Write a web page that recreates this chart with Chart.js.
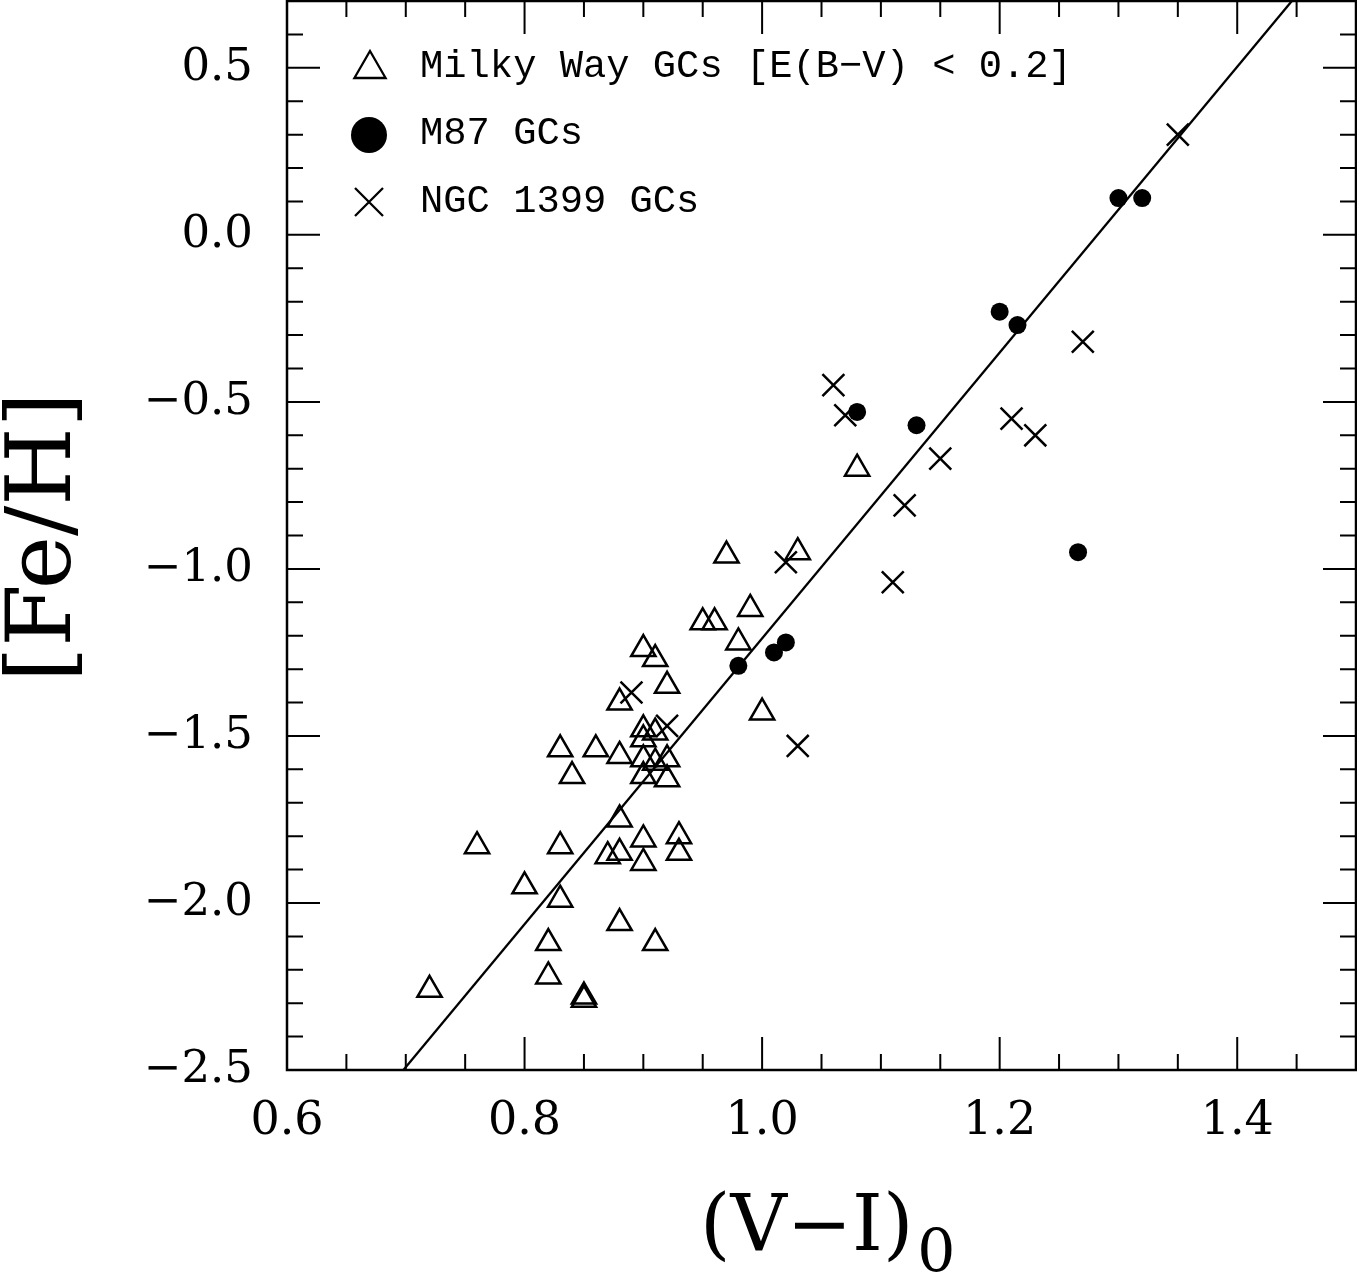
<!DOCTYPE html>
<html>
<head>
<meta charset="utf-8">
<script src="https://cdn.jsdelivr.net/npm/chart.js@4.4.0/dist/chart.umd.min.js"></script>
<style>
  html, body { margin: 0; padding: 0; background: #fff; }
  #wrap { width: 1357px; height: 1276px; }
</style>
</head>
<body>
<div id="wrap"><canvas id="chart" width="1357" height="1276"></canvas></div>
<script>
// Milky Way GCs with E(B-V) < 0.2
var mwColor = [0.72, 0.76, 0.80, 0.82, 0.82, 0.83, 0.83, 0.83, 0.84, 0.85, 0.85, 0.86, 0.87, 0.88,
               0.88, 0.88, 0.88, 0.88, 0.90, 0.90, 0.90, 0.90, 0.90, 0.90, 0.90, 0.91, 0.91, 0.91,
               0.91, 0.92, 0.92, 0.92, 0.93, 0.93, 0.95, 0.96, 0.97, 0.98, 0.99, 1.00, 1.03, 1.08];
var mwFeH = [-2.26, -1.83, -1.95, -2.12, -2.22, -1.54, -1.83, -1.99, -1.62, -2.28, -2.29, -1.54, -1.86, -1.40,
             -1.56, -1.75, -1.85, -2.06, -1.24, -1.48, -1.51, -1.57, -1.62, -1.81, -1.88, -1.27, -1.49, -1.58,
             -2.12, -1.35, -1.57, -1.63, -1.80, -1.85, -1.16, -1.16, -0.96, -1.22, -1.12, -1.43, -0.95, -0.70];

// M87 GCs
var m87Color = [0.98, 1.01, 1.02, 1.08, 1.13, 1.20, 1.215, 1.266, 1.30, 1.32];
var m87FeH = [-1.29, -1.25, -1.22, -0.53, -0.57, -0.23, -0.27, -0.95, 0.11, 0.11];

// NGC 1399 GCs
var ngcColor = [0.89, 0.92, 1.02, 1.03, 1.06, 1.07, 1.11, 1.12, 1.15, 1.21, 1.23, 1.27, 1.35];
var ngcFeH = [-1.37, -1.47, -0.98, -1.53, -0.45, -0.54, -1.04, -0.81, -0.67, -0.55, -0.60, -0.32, 0.30];

// fitted relation, where it enters and leaves the frame
var fitColor = [0.698, 1.446];
var fitFeH = [-2.5, 0.7];

var xTicks = [0.6, 0.8, 1.0, 1.2, 1.4];
var yTicks = [-2.5, -2.0, -1.5, -1.0, -0.5, 0.0, 0.5];
var xMinorStep = 0.05;
var yMinorStep = 0.1;

var legendLabels = ["Milky Way GCs [E(B\u2212V) < 0.2]", "M87 GCs", "NGC 1399 GCs"];

// scatter reserves room round the plot for its markers; the frame here goes to the edge
Chart.registry.getController("scatter").prototype.getMaxOverflow = function () { return 0; };

function zip(xs, ys) {
  return xs.map(function (x, i) { return { x: x, y: ys[i] }; });
}

function fmt(v) {
  return (v < 0 ? "\u2212" : "") + Math.abs(v).toFixed(1);
}

function triangle(ctx, x, y, r) {
  ctx.beginPath();
  ctx.moveTo(x, y - r);
  ctx.lineTo(x + Math.sin(2 * Math.PI / 3) * r, y - Math.cos(2 * Math.PI / 3) * r);
  ctx.lineTo(x + Math.sin(4 * Math.PI / 3) * r, y - Math.cos(4 * Math.PI / 3) * r);
  ctx.closePath();
  ctx.stroke();
}

var framePlugin = {
  id: "frame",
  afterDraw: function (chart) {
    var ctx = chart.ctx, a = chart.chartArea;
    var xs = chart.scales.x, ys = chart.scales.y;
    ctx.save();
    ctx.strokeStyle = "#000";
    ctx.fillStyle = "#000";

    // box
    ctx.lineWidth = 2.5;
    ctx.strokeRect(a.left, a.top, a.right - a.left, a.bottom - a.top);

    // inward ticks on all four sides
    ctx.lineWidth = 2;
    ctx.beginPath();
    var i, p, len;
    for (i = Math.ceil(xs.min / xMinorStep - 1e-6); i * xMinorStep <= xs.max + 1e-9; i++) {
      p = xs.getPixelForValue(i * xMinorStep);
      len = (i % 4 === 0) ? 33 : 16;
      ctx.moveTo(p, a.bottom); ctx.lineTo(p, a.bottom - len);
      ctx.moveTo(p, a.top); ctx.lineTo(p, a.top + len);
    }
    for (i = Math.ceil(ys.min / yMinorStep - 1e-6); i * yMinorStep <= ys.max + 1e-9; i++) {
      p = ys.getPixelForValue(i * yMinorStep);
      len = (i % 5 === 0) ? 33 : 16;
      ctx.moveTo(a.left, p); ctx.lineTo(a.left + len, p);
      ctx.moveTo(a.right, p); ctx.lineTo(a.right - len, p);
    }
    ctx.stroke();

    // legend
    ctx.lineWidth = 2.3;
    triangle(ctx, 370, 69, 18);
    ctx.beginPath();
    ctx.arc(369, 135, 18, 0, 2 * Math.PI);
    ctx.fill();
    ctx.beginPath();
    ctx.moveTo(355, 188); ctx.lineTo(383, 216);
    ctx.moveTo(383, 188); ctx.lineTo(355, 216);
    ctx.stroke();
    ctx.font = "38.8px 'Liberation Mono'";
    ctx.textAlign = "left";
    ctx.textBaseline = "alphabetic";
    var baselines = [77, 144, 212];
    legendLabels.forEach(function (t, k) { ctx.fillText(t, 420, baselines[k]); });

    // axis titles
    ctx.font = "78px 'DejaVu Serif'";
    ctx.fillText("(V\u2212I)", 700, 1250);
    var w = ctx.measureText("(V\u2212I)").width;
    ctx.font = "60px 'DejaVu Serif'";
    ctx.fillText("0", 700 + w + 4, 1272);

    ctx.save();
    ctx.translate(70, 537);
    ctx.rotate(-Math.PI / 2);
    ctx.font = "90px 'DejaVu Serif'";
    ctx.textAlign = "center";
    ctx.fillText("[Fe/H]", 0, 0);
    ctx.restore();

    ctx.restore();
  }
};

new Chart(document.getElementById("chart"), {
  type: "scatter",
  data: {
    datasets: [
      {
        label: legendLabels[0],
        data: zip(mwColor, mwFeH),
        pointStyle: "triangle",
        pointRadius: 14,
        borderWidth: 2.5,
        borderColor: "#000",
        backgroundColor: "rgba(0,0,0,0)"
      },
      {
        label: legendLabels[1],
        data: zip(m87Color, m87FeH),
        pointStyle: "circle",
        pointRadius: 9,
        borderWidth: 0,
        borderColor: "#000",
        backgroundColor: "#000"
      },
      {
        label: legendLabels[2],
        data: zip(ngcColor, ngcFeH),
        pointStyle: "crossRot",
        pointRadius: 15.5,
        borderWidth: 2.5,
        borderColor: "#000",
        backgroundColor: "#000"
      },
      {
        label: "fit",
        data: zip(fitColor, fitFeH),
        showLine: true,
        pointRadius: 0,
        borderWidth: 2.3,
        borderColor: "#000"
      }
    ]
  },
  options: {
    responsive: false,
    animation: false,
    events: [],
    layout: { padding: { left: 0, top: 1, right: 1, bottom: 0 } },
    plugins: { legend: { display: false }, tooltip: { enabled: false } },
    scales: {
      x: {
        type: "linear",
        min: 0.6,
        max: 1.5,
        grid: { display: false, drawTicks: false },
        border: { display: false },
        afterBuildTicks: function (s) { s.ticks = xTicks.map(function (v) { return { value: v }; }); },
        afterFit: function (s) { s.height = 206; s.paddingLeft = 0; s.paddingRight = 0; },
        ticks: {
          autoSkip: false,
          maxRotation: 0,
          padding: 24,
          color: "#000",
          font: { family: "'DejaVu Serif'", size: 46 },
          callback: function (v) { return fmt(v); }
        }
      },
      y: {
        type: "linear",
        min: -2.5,
        max: 0.7,
        grid: { display: false, drawTicks: false },
        border: { display: false },
        afterBuildTicks: function (s) { s.ticks = yTicks.map(function (v) { return { value: v }; }); },
        afterFit: function (s) { s.width = 287; s.paddingTop = 0; s.paddingBottom = 0; },
        ticks: {
          autoSkip: false,
          padding: 34,
          color: "#000",
          font: { family: "'DejaVu Serif'", size: 45 },
          callback: function (v) { return fmt(v); }
        }
      }
    }
  },
  plugins: [framePlugin]
});
</script>
</body>
</html>
